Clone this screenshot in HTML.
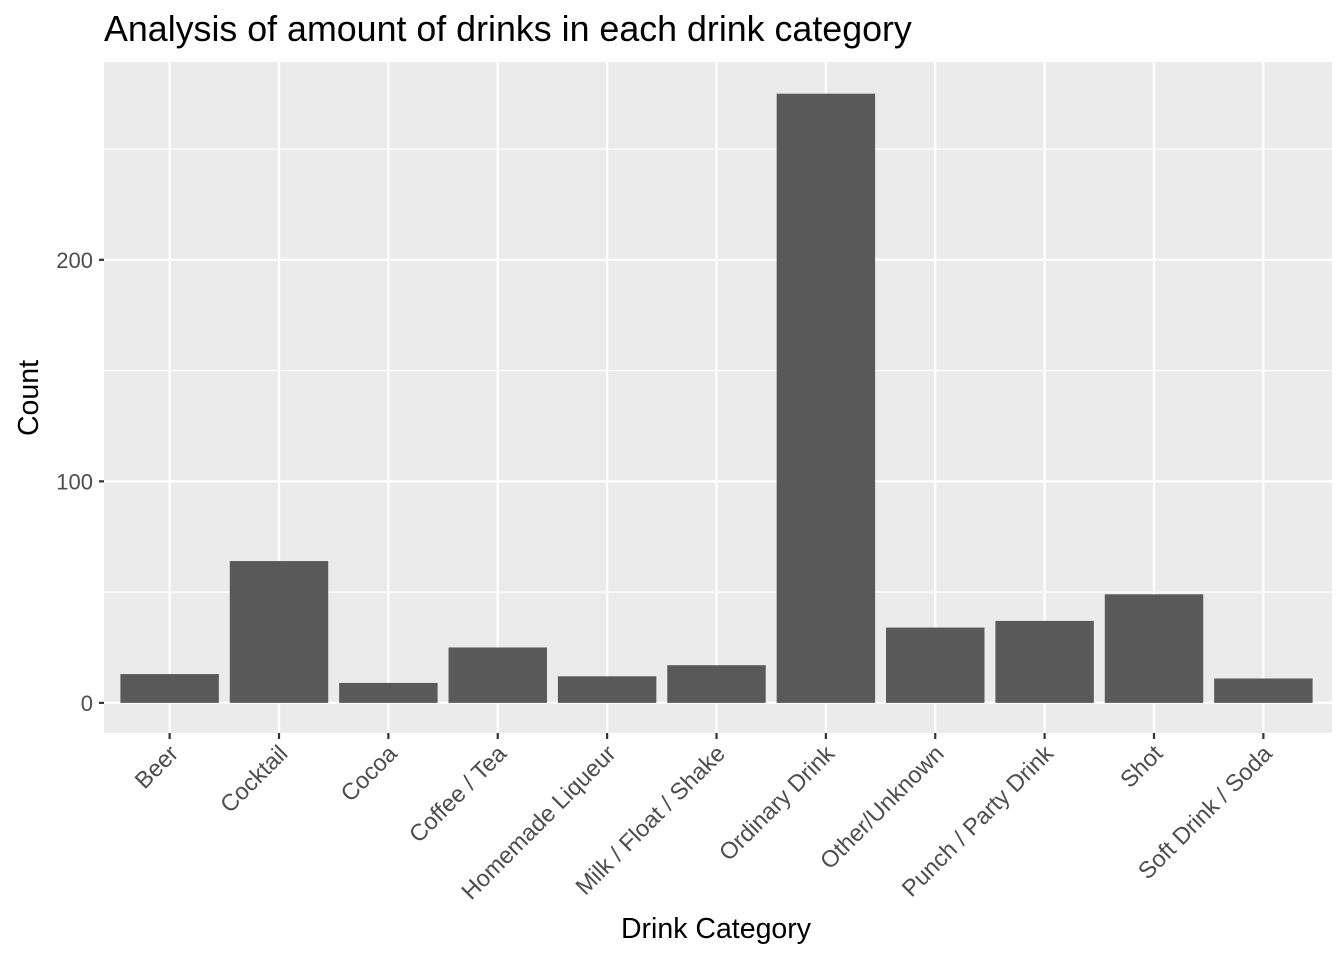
<!DOCTYPE html>
<html><head><meta charset="utf-8"><style>
html,body{margin:0;padding:0;background:#fff;}
svg{display:block;font-family:"Liberation Sans",sans-serif;}
</style></head><body>
<svg id="chart" width="1344" height="960">
<text x="104" y="41" font-size="35.8" fill="#000">Analysis of amount of drinks in each drink category</text>
<text x="716" y="938" font-size="28.5" text-anchor="middle" fill="#000">Drink Category</text>
<text transform="translate(38,398) rotate(-90)" font-size="28.5" text-anchor="middle" fill="#000">Count</text>
</svg>
<script>
const categories=["Beer","Cocktail","Cocoa","Coffee / Tea","Homemade Liqueur","Milk / Float / Shake","Ordinary Drink","Other/Unknown","Punch / Party Drink","Shot","Soft Drink / Soda"];
const counts=[13,64,9,25,12,17,275,34,37,49,11];
const yTicks=[0,100,200];
const yMinor=[50,150,250];

const NS="http://www.w3.org/2000/svg";
const svg=document.getElementById('chart');
const P={l:104,r:1329,t:62,b:733};
const yMin=-13.6,yMax=289.3;
const y=v=>P.b-(v-yMin)/(yMax-yMin)*(P.b-P.t);
const n=categories.length;
const step=(P.r-P.l)/(n-1+1.2);
const x=i=>P.l+step*(0.6+i);
function mk(tag,attrs,parent){const e=document.createElementNS(NS,tag);for(const k in attrs)e.setAttribute(k,attrs[k]);(parent||svg).appendChild(e);return e;}

const panel=mk('rect',{x:P.l,y:P.t,width:1332-P.l,height:P.b-P.t,fill:'#ebebeb'});


yMinor.forEach(v=>{const l=mk('line',{x1:P.l,x2:1332,y1:y(v),y2:y(v),stroke:'#fff','stroke-width':1.1});

});
yTicks.forEach(v=>{const l=mk('line',{x1:P.l,x2:1332,y1:y(v),y2:y(v),stroke:'#fff','stroke-width':2.2});


const t=mk('line',{x1:P.l-5,x2:P.l,y1:y(v),y2:y(v),stroke:'#333','stroke-width':2.2});


const tx=mk('text',{x:P.l-11,y:y(v)+8,'font-size':22,'text-anchor':'end',fill:'#4d4d4d'});
tx.textContent=v;

});
categories.forEach((c,i)=>{const cx=x(i);
const g=mk('line',{x1:cx,x2:cx,y1:P.t,y2:P.b,stroke:'#fff','stroke-width':2.2});

});
categories.forEach((c,i)=>{const cx=x(i);const bw=step*0.9;
const b=mk('rect',{x:cx-bw/2,y:y(counts[i]),width:bw,height:y(0)-y(counts[i]),fill:'#595959'});


const t=mk('line',{x1:cx,x2:cx,y1:P.b,y2:P.b+6,stroke:'#333','stroke-width':2.2});


const tx=mk('text',{transform:`translate(${cx+10},${P.b+22}) rotate(-45)`,'font-size':23.5,'text-anchor':'end',fill:'#4d4d4d'});
tx.textContent=c;

});
</script>
</body></html>
